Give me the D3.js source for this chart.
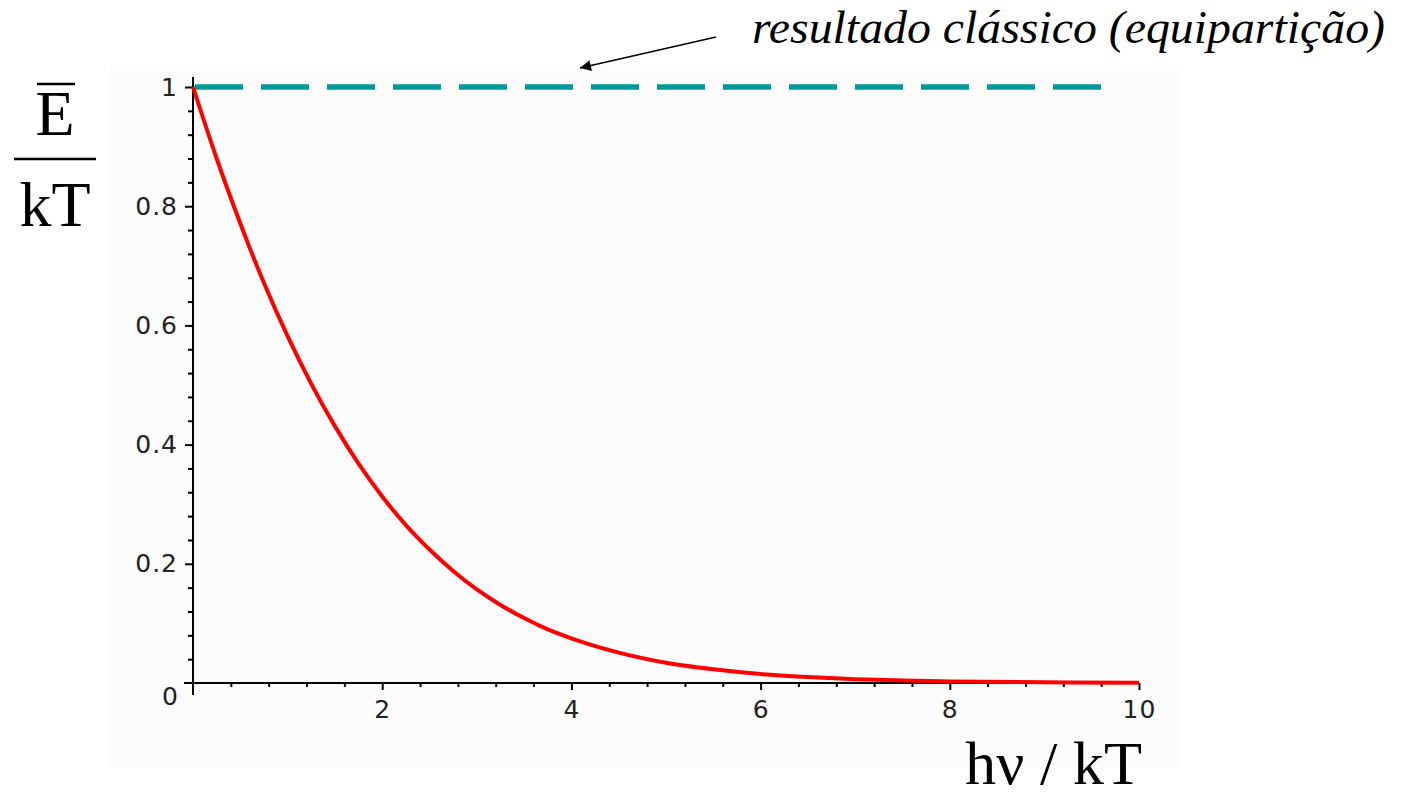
<!DOCTYPE html>
<html>
<head>
<meta charset="utf-8">
<script src="https://cdn.jsdelivr.net/npm/d3@7"></script>
<style>
  html, body { margin: 0; padding: 0; background: #ffffff; }
  svg { display: block; }
</style>
</head>
<body>
<svg id="chart" width="1402" height="797"></svg>
<script>
// ---- data ----
const xValues = [0, 0.25, 0.5, 0.75, 1, 1.25, 1.5, 1.75, 2, 2.25, 2.5, 2.75, 3, 3.25, 3.5, 3.75, 4, 4.5, 5, 5.5, 6, 6.5, 7, 7.5, 8, 9, 10];
const energyValues = [1, 0.880, 0.771, 0.671, 0.582, 0.502, 0.431, 0.368, 0.313, 0.265, 0.224, 0.188, 0.157, 0.131, 0.109, 0.090, 0.075, 0.051, 0.034, 0.023, 0.015, 0.010, 0.0064, 0.0042, 0.0027, 0.0011, 0.0005];
const classicalX = [0, 9.6];
const classicalValues = [1, 1];
const xTickValues = [2, 4, 6, 8, 10];
const xTickLabels = ["2", "4", "6", "8", "10"];
const yTickValues = [0, 0.2, 0.4, 0.6, 0.8, 1];
const yTickLabels = ["0", "0.2", "0.4", "0.6", "0.8", "1"];
const annotationText = "resultado clássico (equipartição)";

// ---- layout ----
const svg = d3.select("#chart");
const x = d3.scaleLinear().domain([0, 10]).range([193, 1139]);
const y = d3.scaleLinear().domain([0, 1]).range([683, 87]);

// faint plot background
svg.append("rect").attr("x", 110).attr("y", 66).attr("width", 1072).attr("height", 702).attr("fill", "#fcfcfc");

// arrow marker
svg.append("defs").append("marker")
  .attr("id", "arrow").attr("viewBox", "0 0 10 10").attr("refX", 10).attr("refY", 5)
  .attr("markerWidth", 16).attr("markerHeight", 11).attr("markerUnits", "userSpaceOnUse")
  .attr("orient", "auto")
  .append("path").attr("d", "M0,0 L10,5 L0,10 Z").attr("fill", "#000");

// ---- axes ----
const axisColor = "#000";
const xMinor = d3.range(0.4, 10.01, 0.4).filter(v => xTickValues.indexOf(+v.toFixed(1)) < 0);
const yMinor = d3.range(0.04, 1.001, 0.04).filter(v => Math.abs(v * 5 - Math.round(v * 5)) > 1e-6);

const gx = svg.append("g").attr("transform", `translate(0,${y(0)})`);
gx.call(d3.axisBottom(x).tickValues(xMinor).tickSize(4).tickFormat(""));
gx.call(g => g.select(".domain").remove());
const gx2 = svg.append("g").attr("transform", `translate(0,${y(0)})`);
gx2.call(d3.axisBottom(x).tickValues(xTickValues).tickSize(7).tickPadding(10)
  .tickFormat((d, i) => xTickLabels[i]));
gx2.call(g => g.select(".domain").remove());

const gy = svg.append("g").attr("transform", `translate(${x(0)},0)`);
gy.call(d3.axisLeft(y).tickValues(yMinor).tickSize(5).tickFormat(""));
gy.call(g => g.select(".domain").remove());
const gy2 = svg.append("g").attr("transform", `translate(${x(0)},0)`);
gy2.call(d3.axisLeft(y).tickValues(yTickValues).tickSize(8).tickPadding(7)
  .tickFormat((d, i) => yTickLabels[i]));
gy2.call(g => g.select(".domain").remove());
gy2.selectAll(".tick").filter(d => d === 0).select("text").attr("dy", "0.85em").attr("x", -14);
gy2.selectAll(".tick").filter(d => d === 0).select("line").remove();

svg.selectAll(".tick line").attr("stroke", axisColor).attr("stroke-width", 2);
svg.selectAll(".tick text")
  .attr("font-family", "DejaVu Sans, sans-serif").attr("font-size", 25)
  .attr("fill", "#222").attr("letter-spacing", 1);

// axis lines
svg.append("line").attr("x1", 184).attr("x2", x(10)).attr("y1", y(0)).attr("y2", y(0))
  .attr("stroke", axisColor).attr("stroke-width", 2);
svg.append("line").attr("x1", x(0)).attr("x2", x(0)).attr("y1", 77).attr("y2", 695)
  .attr("stroke", axisColor).attr("stroke-width", 2);

// ---- classical (equipartition) line ----
const classical = classicalX.map((d, i) => [d, classicalValues[i]]);
svg.append("path").datum(classical)
  .attr("d", d3.line().x(d => x(d[0]) + 2).y(d => y(d[1])))
  .attr("fill", "none").attr("stroke", "#009999").attr("stroke-width", 5.5)
  .attr("stroke-dasharray", "48,18");

// ---- quantum curve ----
const curve = xValues.map((d, i) => [d, energyValues[i]]);
svg.append("path").datum(curve)
  .attr("d", d3.line().curve(d3.curveMonotoneX).x(d => x(d[0])).y(d => y(d[1])))
  .attr("fill", "none").attr("stroke", "#ff0000").attr("stroke-width", 4)
  .attr("stroke-linejoin", "round");

// ---- annotation ----
svg.append("line").attr("x1", 716).attr("y1", 37).attr("x2", 580).attr("y2", 68)
  .attr("stroke", "#000").attr("stroke-width", 1.6).attr("marker-end", "url(#arrow)");
svg.append("text").attr("x", 752).attr("y", 43)
  .attr("font-family", "'Liberation Serif', serif").attr("font-style", "italic")
  .attr("font-size", 46).attr("fill", "#000")
  .attr("textLength", 633).attr("lengthAdjust", "spacingAndGlyphs")
  .text(annotationText);

// ---- axis titles ----
const serif = "'Liberation Serif', serif";
svg.append("text").attr("x", 55).attr("y", 135).attr("text-anchor", "middle")
  .attr("font-family", serif).attr("font-size", 64).text("E");
svg.append("line").attr("x1", 37).attr("x2", 75).attr("y1", 84).attr("y2", 84)
  .attr("stroke", "#000").attr("stroke-width", 2.5);
svg.append("line").attr("x1", 14).attr("x2", 96).attr("y1", 159).attr("y2", 159)
  .attr("stroke", "#000").attr("stroke-width", 2.5);
svg.append("text").attr("x", 55).attr("y", 226).attr("text-anchor", "middle")
  .attr("font-family", serif).attr("font-size", 64).text("kT");
svg.append("text").attr("x", 1142).attr("y", 784).attr("text-anchor", "end")
  .attr("font-family", serif).attr("font-size", 62)
  .attr("textLength", 177).attr("lengthAdjust", "spacingAndGlyphs")
  .text("hν / kT");
</script>
</body>
</html>
